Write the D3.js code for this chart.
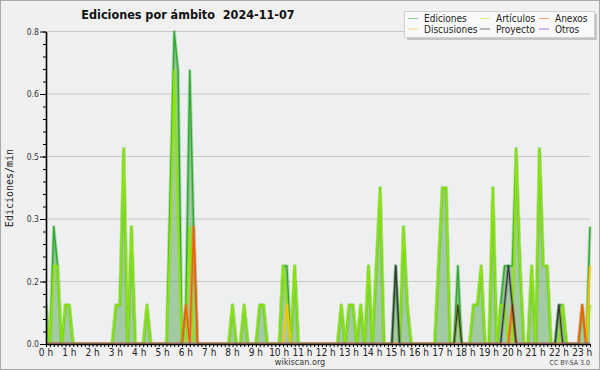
<!DOCTYPE html>
<html>
<head>
<meta charset="utf-8">
<script src="https://cdn.jsdelivr.net/npm/d3@7"></script>
<style>
  body { margin: 0; background: #f0f0f0; }
  svg { display: block; font-family: "DejaVu Sans Condensed", "DejaVu Sans", sans-serif; font-stretch: condensed; }
</style>
</head>
<body>
<div id="chart"></div>
<script>
// edits per minute, one value per 10-minute slot (0:00 .. 23:20)
const ediciones = [
  0.1, 0, 0.3, 0.2, 0, 0.1, 0.1, 0, 0, 0, 0, 0,
  0, 0, 0, 0, 0, 0, 0.1, 0.1, 0.5, 0, 0.3, 0,
  0, 0, 0.1, 0, 0, 0, 0, 0, 0.4, 0.8, 0.7, 0,
  0.1, 0.7, 0.3, 0, 0, 0, 0, 0, 0, 0, 0, 0,
  0.1, 0, 0, 0.1, 0, 0, 0, 0.1, 0.1, 0, 0, 0,
  0, 0.2, 0.2, 0, 0.2, 0, 0, 0, 0, 0, 0, 0,
  0, 0, 0, 0, 0.1, 0, 0.1, 0.1, 0, 0.1, 0, 0.2,
  0, 0.2, 0.4, 0, 0, 0, 0.2, 0, 0.3, 0.1, 0, 0,
  0, 0, 0, 0, 0, 0.2, 0.4, 0.4, 0, 0, 0.2, 0,
  0, 0, 0.1, 0.1, 0.2, 0, 0, 0.4, 0, 0.1, 0.2, 0.2,
  0.2, 0.5, 0.2, 0, 0, 0.2, 0, 0.5, 0.2, 0.2, 0, 0,
  0.1, 0.1, 0, 0, 0, 0, 0.1, 0, 0.3
];
const articulos = [
  0.1, 0, 0.2, 0.2, 0, 0.1, 0.1, 0, 0, 0, 0, 0,
  0, 0, 0, 0, 0, 0, 0.1, 0.1, 0.5, 0, 0.3, 0,
  0, 0, 0.1, 0, 0, 0, 0, 0, 0.3, 0.7, 0.3, 0,
  0, 0.3, 0, 0, 0, 0, 0, 0, 0, 0, 0, 0,
  0.1, 0, 0, 0.1, 0, 0, 0, 0.1, 0.1, 0, 0, 0,
  0, 0.2, 0.1, 0, 0.2, 0, 0, 0, 0, 0, 0, 0,
  0, 0, 0, 0, 0.1, 0, 0.1, 0.1, 0, 0.1, 0, 0.2,
  0, 0.2, 0.4, 0, 0, 0, 0, 0, 0.3, 0.1, 0, 0,
  0, 0, 0, 0, 0, 0.2, 0.4, 0.4, 0, 0, 0.1, 0,
  0, 0, 0.1, 0.1, 0.2, 0, 0, 0.4, 0, 0.1, 0.1, 0,
  0, 0.5, 0.2, 0, 0, 0.2, 0, 0.5, 0.2, 0.2, 0, 0,
  0, 0.1, 0, 0, 0, 0, 0, 0, 0.1
];
const discusiones = [
  0, 0, 0, 0, 0, 0, 0, 0, 0, 0, 0, 0,
  0, 0, 0, 0, 0, 0, 0, 0, 0, 0, 0, 0,
  0, 0, 0, 0, 0, 0, 0, 0, 0, 0, 0, 0,
  0, 0, 0, 0, 0, 0, 0, 0, 0, 0, 0, 0,
  0, 0, 0, 0, 0, 0, 0, 0, 0, 0, 0, 0,
  0, 0, 0.1, 0, 0, 0, 0, 0, 0, 0, 0, 0,
  0, 0, 0, 0, 0, 0, 0, 0, 0, 0, 0, 0,
  0, 0, 0, 0, 0, 0, 0, 0, 0, 0, 0, 0,
  0, 0, 0, 0, 0, 0, 0, 0, 0, 0, 0, 0,
  0, 0, 0, 0, 0, 0, 0, 0, 0, 0, 0, 0,
  0, 0, 0, 0, 0, 0, 0, 0, 0, 0, 0, 0,
  0, 0, 0, 0, 0, 0, 0, 0, 0.2
];
const anexos = [
  0, 0, 0, 0, 0, 0, 0, 0, 0, 0, 0, 0,
  0, 0, 0, 0, 0, 0, 0, 0, 0, 0, 0, 0,
  0, 0, 0, 0, 0, 0, 0, 0, 0, 0, 0, 0,
  0.1, 0, 0.3, 0, 0, 0, 0, 0, 0, 0, 0, 0,
  0, 0, 0, 0, 0, 0, 0, 0, 0, 0, 0, 0,
  0, 0, 0, 0, 0, 0, 0, 0, 0, 0, 0, 0,
  0, 0, 0, 0, 0, 0, 0, 0, 0, 0, 0, 0,
  0, 0, 0, 0, 0, 0, 0, 0, 0, 0, 0, 0,
  0, 0, 0, 0, 0, 0, 0, 0, 0, 0, 0, 0,
  0, 0, 0, 0, 0, 0, 0, 0, 0, 0, 0, 0,
  0.1, 0, 0, 0, 0, 0, 0, 0, 0, 0, 0, 0,
  0, 0, 0, 0, 0, 0, 0.1, 0, 0
];
const proyecto = [
  0, 0, 0, 0, 0, 0, 0, 0, 0, 0, 0, 0,
  0, 0, 0, 0, 0, 0, 0, 0, 0, 0, 0, 0,
  0, 0, 0, 0, 0, 0, 0, 0, 0, 0, 0, 0,
  0, 0, 0, 0, 0, 0, 0, 0, 0, 0, 0, 0,
  0, 0, 0, 0, 0, 0, 0, 0, 0, 0, 0, 0,
  0, 0, 0, 0, 0, 0, 0, 0, 0, 0, 0, 0,
  0, 0, 0, 0, 0, 0, 0, 0, 0, 0, 0, 0,
  0, 0, 0, 0, 0, 0, 0.2, 0, 0, 0, 0, 0,
  0, 0, 0, 0, 0, 0, 0, 0, 0, 0, 0.1, 0,
  0, 0, 0, 0, 0, 0, 0, 0, 0, 0, 0.1, 0.2,
  0.1, 0, 0, 0, 0, 0, 0, 0, 0, 0, 0, 0,
  0.1, 0, 0, 0, 0, 0, 0, 0, 0
];
const otros = [
  0, 0, 0, 0, 0, 0, 0, 0, 0, 0, 0, 0,
  0, 0, 0, 0, 0, 0, 0, 0, 0, 0, 0, 0,
  0, 0, 0, 0, 0, 0, 0, 0, 0, 0, 0, 0,
  0, 0, 0, 0, 0, 0, 0, 0, 0, 0, 0, 0,
  0, 0, 0, 0, 0, 0, 0, 0, 0, 0, 0, 0,
  0, 0, 0, 0, 0, 0, 0, 0, 0, 0, 0, 0,
  0, 0, 0, 0, 0, 0, 0, 0, 0, 0, 0, 0,
  0, 0, 0, 0, 0, 0, 0, 0, 0, 0, 0, 0,
  0, 0, 0, 0, 0, 0, 0, 0, 0, 0, 0, 0,
  0, 0, 0, 0, 0, 0, 0, 0, 0, 0, 0, 0,
  0, 0, 0, 0, 0, 0, 0, 0, 0, 0, 0, 0,
  0, 0, 0, 0, 0, 0, 0, 0, 0
];

const yTicks = [0, 0.16, 0.32, 0.48, 0.64, 0.8];
const hourLabels = ["0 h", "1 h", "2 h", "3 h", "4 h", "5 h", "6 h", "7 h", "8 h", "9 h", "10 h", "11 h",
  "12 h", "13 h", "14 h", "15 h", "16 h", "17 h", "18 h", "19 h", "20 h", "21 h", "22 h", "23 h"];
const legendNames = ["Ediciones", "Artículos", "Anexos", "Discusiones", "Proyecto", "Otros"];

// dimensions of the whole picture and of the plot
const W = 600, H = 370;
const margin = { top: 31.5, right: 10, bottom: 26, left: 46 };
const slotMinutes = 10;
const lastMinute = (ediciones.length - 1) * slotMinutes;

const svg = d3.select("#chart")
  .append("svg")
    .attr("width", W)
    .attr("height", H);

// backgrounds
svg.append("rect")
  .attr("x", 0.5).attr("y", 0.5)
  .attr("width", W - 1).attr("height", H - 1)
  .attr("fill", "#f0f0f0")
  .attr("stroke", "#a8a8a8");

svg.append("rect")
  .attr("x", margin.left).attr("y", margin.top)
  .attr("width", W - margin.right - margin.left)
  .attr("height", H - margin.bottom - margin.top)
  .attr("fill", "#edeff1");

// scales
let x = d3.scaleLinear()
  .domain([0, lastMinute])
  .range([margin.left, W - margin.right]);

let y = d3.scaleLinear()
  .domain([0, 0.8])
  .range([H - margin.bottom, margin.top]);

// keep the line halos above the x axis
svg.append("clipPath")
  .attr("id", "plot-clip")
  .append("rect")
    .attr("x", margin.left)
    .attr("y", margin.top - 6)
    .attr("width", W - margin.right - margin.left + 2)
    .attr("height", y(0) - 0.8 - (margin.top - 6));

// grid lines
svg.append("g")
  .selectAll("line")
  .data(yTicks.slice(1))
  .join("line")
    .attr("x1", margin.left)
    .attr("x2", W - margin.right)
    .attr("y1", d => y(d))
    .attr("y2", d => y(d))
    .attr("stroke", "#c9c9c9")
    .attr("stroke-width", 1);

let plot = svg.append("g").attr("clip-path", "url(#plot-clip)");

// area under the total
let area = d3.area()
  .x((d, i) => x(i * slotMinutes))
  .y0(y(0))
  .y1(d => y(d));

plot.append("path")
  .datum(ediciones)
  .attr("d", area)
  .attr("fill", "rgb(70,160,70)")
  .attr("fill-opacity", 0.45);

// series lines
let line = d3.line()
  .x((d, i) => x(i * slotMinutes))
  .y(d => y(d));

const series = [
  { values: ediciones, color: "#2fa82f", width: 1.4 },
  { values: articulos, color: "#8ee600", width: 1.5 },
  { values: discusiones, color: "#ffc400", width: 1.4 },
  { values: anexos, color: "#ff5a00", width: 1.4 },
  { values: proyecto, color: "#333333", width: 1.1 },
  { values: otros, color: "#9933ff", width: 1.2 }
];

series.forEach(s => {
  // soft halo like the anti-aliased original
  plot.append("path")
    .datum(s.values)
    .attr("d", line)
    .attr("fill", "none")
    .attr("stroke", s.color)
    .attr("stroke-opacity", 0.3)
    .attr("stroke-width", s.width + 2)
    .attr("stroke-linejoin", "round");

  plot.append("path")
    .datum(s.values)
    .attr("d", line)
    .attr("fill", "none")
    .attr("stroke", s.color)
    .attr("stroke-width", s.width)
    .attr("stroke-linejoin", "round");
});

// x axis: a tick every 10 minutes, a label every hour
let xAxis = svg.append("g")
  .attr("transform", "translate(0," + y(0) + ")")
  .call(d3.axisBottom(x)
    .tickValues(d3.range(0, lastMinute + 1, slotMinutes))
    .tickSize(3)
    .tickSizeOuter(0)
    .tickFormat(""));

xAxis.select(".domain").attr("stroke-width", 1.6);

svg.append("g")
  .selectAll("text")
  .data(hourLabels)
  .join("text")
    .attr("x", (d, i) => x(i * 60))
    .attr("y", y(0) + 11.5)
    .attr("text-anchor", "middle")
    .attr("font-size", 10)
    .attr("fill", "#222")
    .text(d => d);

// y axis with minor ticks
svg.append("g")
  .attr("transform", "translate(" + margin.left + ",0)")
  .call(d3.axisLeft(y)
    .tickValues(d3.range(0, 0.8001, 0.032))
    .tickSize(3)
    .tickSizeOuter(0)
    .tickFormat(""))
  .select(".domain").remove();

let yAxis = svg.append("g")
  .attr("transform", "translate(" + margin.left + ",0)")
  .call(d3.axisLeft(y)
    .tickValues(yTicks)
    .tickSize(6)
    .tickSizeOuter(0)
    .tickPadding(1)
    .tickFormat(d3.format(".1f")));

yAxis.select(".domain").attr("stroke-width", 1.6);
yAxis.selectAll("text")
  .attr("font-size", 8.5)
  .attr("fill", "#333")
  .attr("font-family", "\"DejaVu Sans Condensed\", \"DejaVu Sans\", sans-serif");

// axis title
svg.append("text")
  .attr("transform", "translate(13," + 188 + ") rotate(-90)")
  .attr("text-anchor", "middle")
  .attr("font-family", "\"DejaVu Sans Mono\", monospace")
  .attr("font-size", 10)
  .attr("fill", "#222")
  .text("Ediciones/min");

// title
svg.append("text")
  .attr("x", 188)
  .attr("y", 19)
  .attr("text-anchor", "middle")
  .attr("font-size", 12.5)
  .attr("font-weight", "bold")
  .attr("fill", "#111")
  .attr("xml:space", "preserve")
  .text("Ediciones por ámbito  2024-11-07");

// legend
let legend = svg.append("g");
legend.append("rect")
  .attr("x", 407).attr("y", 14)
  .attr("width", 190).attr("height", 26)
  .attr("fill", "#c4c4c4");
legend.append("rect")
  .attr("x", 404.5).attr("y", 11.5)
  .attr("width", 190).attr("height", 26)
  .attr("fill", "#f9f9f9")
  .attr("stroke", "#d0d0d0");

const legendColors = ["#8fd08f", "#d2f080", "#f0a070", "#f5d870", "#777777", "#a070f0"];
const colX = [408, 480, 539];
const rowY = [18.5, 29];

legend.selectAll("line")
  .data(legendNames)
  .join("line")
    .attr("x1", (d, i) => colX[i % 3])
    .attr("x2", (d, i) => colX[i % 3] + 10)
    .attr("y1", (d, i) => rowY[Math.floor(i / 3)])
    .attr("y2", (d, i) => rowY[Math.floor(i / 3)])
    .attr("stroke", (d, i) => legendColors[i])
    .attr("stroke-width", 1);

legend.selectAll("text")
  .data(legendNames)
  .join("text")
    .attr("x", (d, i) => colX[i % 3] + 16)
    .attr("y", (d, i) => rowY[Math.floor(i / 3)] + 3.5)
    .attr("font-size", 10)
    .attr("fill", "#222")
    .text(d => d);

// footer
svg.append("text")
  .attr("x", 300)
  .attr("y", 365)
  .attr("text-anchor", "middle")
  .attr("font-size", 9)
  .attr("fill", "#333")
  .text("wikiscan.org");

svg.append("text")
  .attr("x", 590)
  .attr("y", 365)
  .attr("text-anchor", "end")
  .attr("font-size", 7)
  .attr("fill", "#444")
  .text("CC BY-SA 3.0");
</script>
</body>
</html>
